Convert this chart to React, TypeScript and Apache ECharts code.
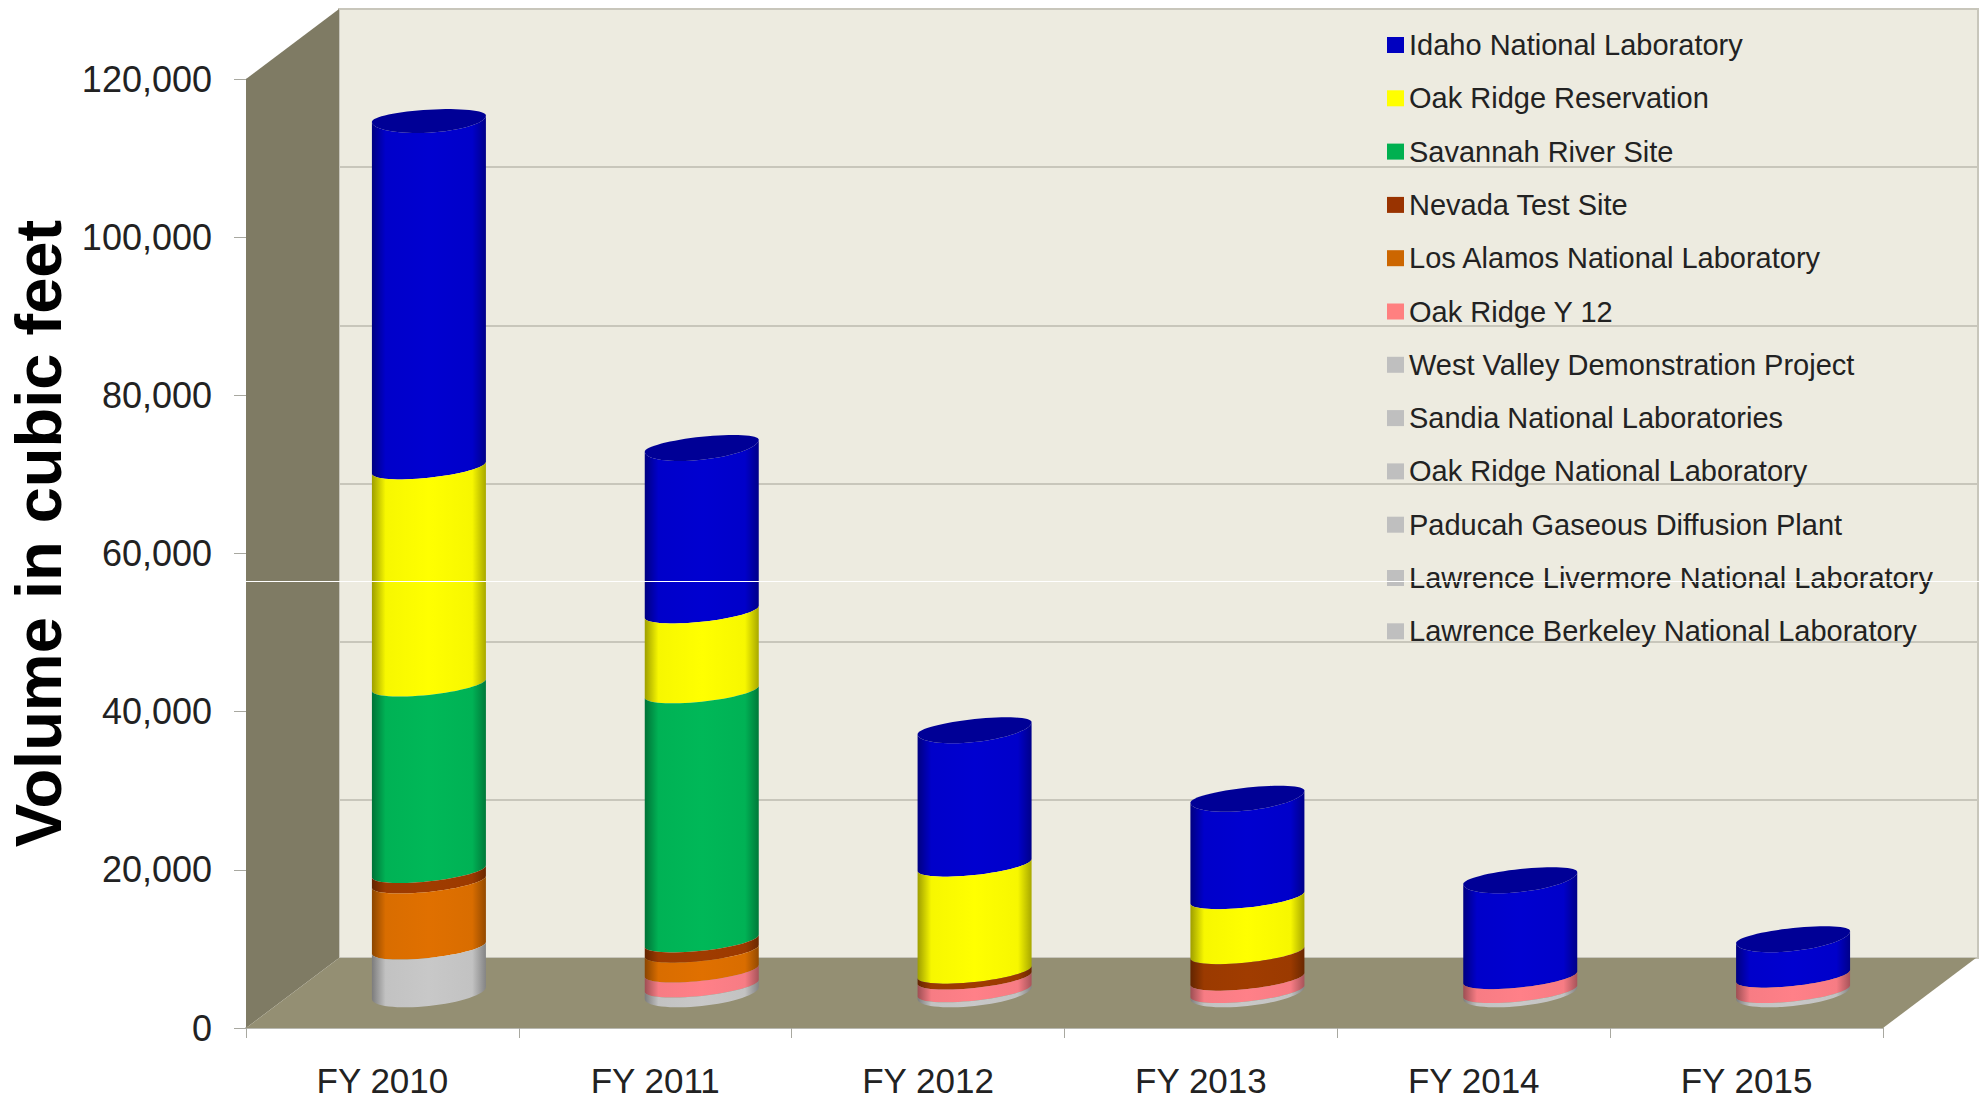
import React, { useEffect, useRef } from "react";
import * as echarts from "echarts";

const categories = ["FY 2010", "FY 2011", "FY 2012", "FY 2013", "FY 2014", "FY 2015"];

const seriesNames = [
  "Idaho National Laboratory",
  "Oak Ridge Reservation",
  "Savannah River Site",
  "Nevada Test Site",
  "Los Alamos National Laboratory",
  "Oak Ridge Y 12",
  "West Valley Demonstration Project",
  "Sandia National Laboratories",
  "Oak Ridge National Laboratory",
  "Paducah Gaseous Diffusion Plant",
  "Lawrence Livermore National Laboratory",
  "Lawrence Berkeley National Laboratory",
];

const idaho = [44140, 21000, 17320, 12770, 12580, 4930];
const oakRidgeReservation = [27460, 10100, 13530, 6950, 0, 0];
const savannahRiver = [23580, 31500, 0, 0, 0, 0];
const nevada = [1330, 1300, 750, 3350, 0, 0];
const losAlamos = [8350, 2500, 0, 0, 0, 0];
const oakRidgeY12 = [0, 1900, 1600, 1570, 1760, 1950];
const westValley = [5700, 900, 300, 200, 200, 200];
const sandia = [0, 0, 0, 0, 0, 0];
const oakRidgeNational = [0, 0, 0, 0, 0, 0];
const paducah = [0, 0, 0, 0, 0, 0];
const lawrenceLivermore = [0, 0, 0, 0, 0, 0];
const lawrenceBerkeley = [0, 0, 0, 0, 0, 0];

const seriesValues = [
  idaho, oakRidgeReservation, savannahRiver, nevada, losAlamos, oakRidgeY12,
  westValley, sandia, oakRidgeNational, paducah, lawrenceLivermore, lawrenceBerkeley,
];

const swatchColors = [
  "#0000C0", "#FFFF00", "#00B050", "#993300", "#CC6600", "#FF8080",
  "#BFBFBF", "#BFBFBF", "#BFBFBF", "#BFBFBF", "#BFBFBF", "#BFBFBF",
];
const bodyColors = [
  [0, 0, 208], [255, 255, 0], [0, 184, 88], [160, 60, 0], [224, 112, 0], [255, 128, 136],
  [200, 200, 200], [200, 200, 200], [200, 200, 200], [200, 200, 200], [200, 200, 200], [200, 200, 200],
];

const DEPTH_X = 93;
const DEPTH_Y = 70;
const RX = 57;

const shade = (c: number[], k: number) =>
  `rgb(${Math.round(c[0] * k)},${Math.round(c[1] * k)},${Math.round(c[2] * k)})`;

const tiltAt = (y: number) => Math.min(6, 2 + y * 0.01);

function arc(cx: number, cy: number, ry: number, from: number, to: number, steps = 32) {
  const tilt = tiltAt(cy);
  const pts: number[][] = [];
  for (let i = 0; i <= steps; i++) {
    const t = from + ((to - from) * i) / steps;
    pts.push([cx - RX * Math.cos(t), cy + ry * Math.sin(t) + tilt * Math.cos(t)]);
  }
  return pts;
}

export default function App() {
  const ref = useRef<HTMLDivElement>(null);

  useEffect(() => {
    if (!ref.current) return;
    const chart = echarts.init(ref.current, undefined, { renderer: "svg" });

    // Stack from the bottom of the legend upwards
    const cum: number[][] = seriesValues.map((v) => v.map(() => 0));
    for (let c = 0; c < categories.length; c++) {
      let running = 0;
      for (let s = seriesValues.length - 1; s >= 0; s--) {
        cum[s][c] = running;
        running += seriesValues[s][c];
      }
    }

    const walls = {
      type: "custom",
      name: "walls",
      xAxisIndex: 0,
      yAxisIndex: 0,
      silent: true,
      z: 1,
      data: [[0, 0]],
      encode: { x: 0, y: 1 },
      clip: false,
      renderItem: (params: any) => {
        const g = params.coordSys;
        const l = g.x, r = g.x + g.width, t = g.y, b = g.y + g.height;
        return {
          type: "group",
          children: [
            {
              type: "polygon",
              shape: { points: [[l, t], [l + DEPTH_X, t - DEPTH_Y], [l + DEPTH_X, b - DEPTH_Y], [l, b]] },
              style: { fill: "#7F7B64" },
            },
            {
              type: "polygon",
              shape: { points: [[l, b], [l + DEPTH_X, b - DEPTH_Y], [r + DEPTH_X, b - DEPTH_Y], [r, b]] },
              style: { fill: "#948F73" },
            },
          ],
        };
      },
    };

    const bars = seriesNames.map((name, s) => ({
      type: "custom",
      name,
      xAxisIndex: 0,
      yAxisIndex: 0,
      z: 3,
      clip: false,
      itemStyle: { color: swatchColors[s] },
      encode: { x: 0, y: [1, 2] },
      data: categories.map((_, c) => [c, cum[s][c], cum[s][c] + seriesValues[s][c]]),
      renderItem: (_p: any, api: any) => {
        const c = api.value(0), lo = api.value(1), hi = api.value(2);
        if (hi <= lo) return null;
        const isTop = !seriesValues.slice(0, s).some((v) => v[c] > 0);
        const [cx, yLo0] = api.coord([c, lo]);
        const [, yHi0] = api.coord([c, hi]);
        const x = cx + DEPTH_X / 2;
        const yLo = yLo0 - DEPTH_Y / 2;
        const yHi = yHi0 - DEPTH_Y / 2;
        const ryHi = isTop ? 14 : 10;
        const ryLo = lo === 0 ? 13 : 10;
        const col = bodyColors[s];
        const fill = new echarts.graphic.LinearGradient(0, 0, 1, 0, [
          { offset: 0, color: shade(col, 0.62) },
          { offset: 0.12, color: shade(col, 0.97) },
          { offset: 0.5, color: shade(col, 1) },
          { offset: 0.88, color: shade(col, 0.97) },
          { offset: 1, color: shade(col, 0.66) },
        ]);
        const body = [...arc(x, yHi, ryHi, 0, Math.PI), ...arc(x, yLo, ryLo, Math.PI, 0)];
        const children: any[] = [{ type: "polygon", shape: { points: body }, style: { fill } }];
        if (isTop) {
          children.push({
            type: "polygon",
            shape: {
              points: [
                ...arc(x, yHi, ryHi, 0, Math.PI),
                ...arc(x, yHi, 9, Math.PI, Math.PI * 2),
              ],
            },
            style: { fill: shade(col, 0.72) },
          });
        }
        return { type: "group", children };
      },
    }));

    chart.setOption({
      animation: false,
      backgroundColor: "#FFFFFF",
      textStyle: { fontFamily: "'Liberation Sans', Arial, sans-serif" },
      grid: [
        { left: 246, right: 99, top: 79, bottom: 70, containLabel: false, outerBoundsMode: "none" },
        {
          left: 339, right: 4, top: 9, bottom: 140, outerBoundsMode: "none",
          show: true, backgroundColor: "#EDEBE0", borderColor: "#C8C6BB", borderWidth: 2, z: 0,
        },
      ],
      xAxis: [
        {
          type: "category",
          gridIndex: 0,
          data: categories,
          axisLine: { show: true, lineStyle: { color: "#B8B8B0", width: 2 } },
          axisTick: { show: true, length: 10, lineStyle: { color: "#A8A8A0", width: 1 } },
          axisLabel: { fontSize: 35, lineHeight: 32, color: "#222222", margin: 36, interval: 0 },
        },
        { type: "category", gridIndex: 1, data: categories, show: false },
      ],
      yAxis: [
        {
          type: "value",
          gridIndex: 0,
          min: 0,
          max: 120000,
          interval: 20000,
          name: "Volume in cubic feet",
          nameLocation: "middle",
          nameGap: 174,
          nameTextStyle: {
            fontSize: 65, fontWeight: "bold", color: "#000000",
            padding: [0, 0, 0, 40],
          },
          splitLine: { show: false },
          axisLine: { show: true, lineStyle: { color: "#B8B8B0", width: 1 } },
          axisTick: { show: true, length: 12, lineStyle: { color: "#A8A8A0", width: 1 } },
          axisLabel: {
            fontSize: 36, color: "#222222", margin: 34, padding: [3, 0, 0, 0],
            formatter: (v: number) => v.toLocaleString("en-US"),
          },
        },
        {
          type: "value",
          gridIndex: 1,
          min: 0,
          max: 120000,
          interval: 20000,
          splitLine: { show: true, lineStyle: { color: "#C8C6BB", width: 2 } },
          axisLine: { show: false },
          axisTick: { show: false },
          axisLabel: { show: false },
        },
      ],
      legend: {
        data: seriesNames,
        orient: "vertical",
        left: 1387,
        top: 28,
        padding: 0,
        itemWidth: 17,
        itemHeight: 16,
        itemGap: 19.3,
        icon: "rect",
        selectedMode: false,
        textStyle: { fontSize: 29, color: "#222222", height: 34, lineHeight: 34 },
      },
      graphic: [
        {
          type: "line",
          z: 100,
          shape: { x1: 243, y1: 581.5, x2: 1982, y2: 581.5 },
          style: { stroke: "#FFFFFF", lineWidth: 1 },
        },
      ],
      series: [walls, ...bars],
    });

    return () => chart.dispose();
  }, []);

  return (
    <div
      ref={ref}
      style={{ position: "absolute", left: 0, top: 0, width: 1982, height: 1098 }}
    />
  );
}
